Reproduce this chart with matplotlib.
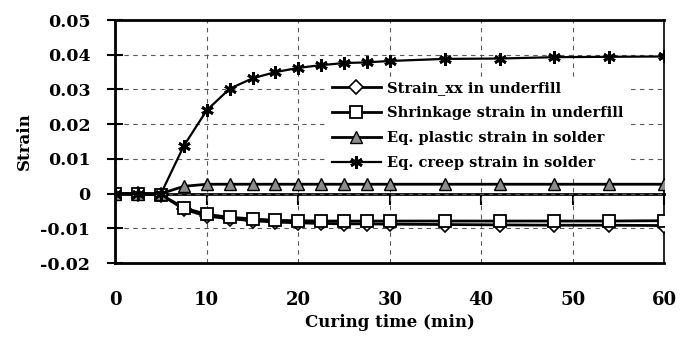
import matplotlib
matplotlib.use("Agg")
import matplotlib.pyplot as plt

# curing time (min)
time_min = [0, 2.5, 5, 7.5, 10, 12.5, 15, 17.5, 20, 22.5, 25, 27.5, 30, 36, 42, 48, 54, 60]

strain_xx = [0, 0, -0.0003, -0.0045, -0.0065, -0.0072, -0.0078, -0.0082, -0.0084, -0.0086,
             -0.0087, -0.0087, -0.0088, -0.0089, -0.009, -0.0091, -0.0091, -0.0092]
shrinkage = [0, 0, -0.0003, -0.0041, -0.0060, -0.0068, -0.0073, -0.0077, -0.0078, -0.0079,
             -0.0079, -0.0079, -0.0079, -0.0079, -0.0079, -0.0079, -0.0079, -0.0078]
plastic = [0, 0, 0, 0.0021, 0.0027, 0.0027, 0.0027, 0.0027, 0.0027, 0.0027,
           0.0027, 0.0027, 0.0027, 0.0027, 0.0027, 0.0027, 0.0027, 0.0027]
creep = [0, 0, 0, 0.0138, 0.0240, 0.0302, 0.0332, 0.0350, 0.0362, 0.0370,
         0.0376, 0.0378, 0.0382, 0.0388, 0.0389, 0.0393, 0.0394, 0.0395]

labels = ["Strain_xx in underfill", "Shrinkage strain in underfill",
          "Eq. plastic strain in solder", "Eq. creep strain in solder"]

x_ticks = [0, 10, 20, 30, 40, 50, 60]
y_ticks = [-0.02, -0.01, 0, 0.01, 0.02, 0.03, 0.04, 0.05]
y_tick_labels = ["-0.02", "-0.01", "0", "0.01", "0.02", "0.03", "0.04", "0.05"]

plt.rcParams["font.family"] = ["DejaVu Serif"]
plt.rcParams["font.weight"] = "bold"
plt.rcParams["axes.labelweight"] = "bold"

fig = plt.figure(figsize=(6.82, 3.39), dpi=100)
ax = fig.add_axes([0.169, 0.224, 0.805, 0.717])

ax.plot(time_min, strain_xx, color="black", lw=2, marker="D", ms=7,
        mfc="white", mec="black", mew=1.2, label=labels[0], zorder=3)
ax.plot(time_min, shrinkage, color="black", lw=2, marker="s", ms=9,
        mfc="white", mec="black", mew=1.3, label=labels[1], zorder=4)
ax.plot(time_min, plastic, color="black", lw=2, marker="^", ms=8,
        mfc="0.55", mec="black", mew=1.0, label=labels[2], zorder=5)
ax.plot(time_min, creep, color="black", lw=1.6, marker=(6, 2, 0), ms=9,
        mec="black", mew=2.0, label=labels[3], zorder=6)

ax.set_xlim(0, 60)
ax.set_ylim(-0.02, 0.05)

ax.set_xticks(x_ticks)
ax.set_yticks(y_ticks)
ax.set_yticklabels(y_tick_labels)
ax.tick_params(axis="x", length=0, pad=20, labelsize=13)
ax.tick_params(axis="y", direction="inout", length=12, width=1.5, pad=12, labelsize=12.5)

ax.grid(True, color="0.35", lw=0.8, linestyle=(0, (4, 4)))
ax.set_axisbelow(True)

for side in ["left", "top", "bottom"]:
    ax.spines[side].set_linewidth(2)
ax.spines["right"].set_linewidth(1.2)

# horizontal axis crossing at strain = 0 (excel style)
zero_axis = ax.secondary_xaxis(0.02 / 0.07)
zero_axis.set_xticks(x_ticks[1:])
zero_axis.tick_params(direction="out", length=8, width=1.5, labelbottom=False, labeltop=False)
zero_axis.spines["bottom"].set_linewidth(2)
zero_axis.spines["top"].set_linewidth(2)

ax.set_xlabel("Curing time (min)", fontsize=12, labelpad=4)
ax.set_ylabel("Strain", fontsize=12, labelpad=5)

leg = ax.legend(loc="center", bbox_to_anchor=(0.66, 0.565),
                prop={"size": 10.5, "weight": "bold"},
                handlelength=3.4, handletextpad=0.4, labelspacing=0.75,
                frameon=True, facecolor="white", edgecolor="white",
                framealpha=1, fancybox=False, borderpad=0.3)
leg.set_zorder(7)

fig.savefig("out.png", dpi=100)
